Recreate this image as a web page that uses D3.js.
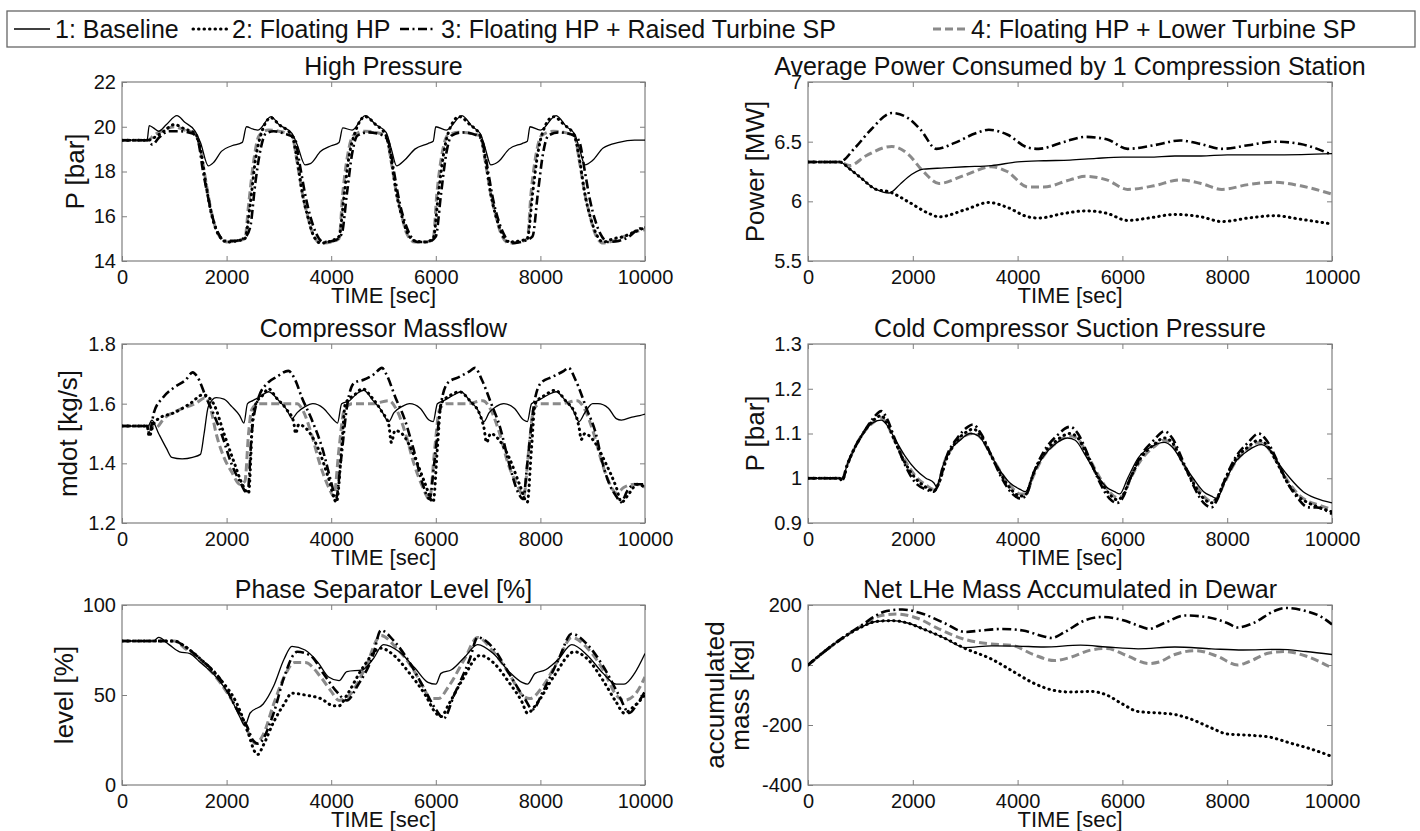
<!DOCTYPE html>
<html><head><meta charset="utf-8">
<script src="https://cdn.jsdelivr.net/npm/d3@7"></script>
<style>body{margin:0;background:#fff}svg{display:block}text{font-family:Arial,"Liberation Sans",Helvetica,sans-serif;fill:#111}</style>
</head><body><svg id="c" width="1420" height="831"></svg>
<script>
// ---------------- DATA ----------------
const seriesNames = ["1: Baseline","2: Floating HP","3: Floating HP + Raised Turbine SP","4: Floating HP + Lower Turbine SP"];
const timeTicks = [0,2000,4000,6000,8000,10000];

// High Pressure [bar]
const hpTicks = [14,16,18,20,22];
const hpBaseline = [[0,19.4],[480,19.4],[520,20.05],[600,19.95],[700,19.8],[850,20.1],[1050,20.5],[1200,20.2],[1400,19.8],[1500,19.3],[1650,18.25],[1750,18.4],[1900,18.9],[2100,19.15],[2300,19.3],[2380,20.0],[2500,19.9],[2600,19.85],[2850,20.45],[3000,20.1],[3250,19.7],[3350,19.2],[3500,18.3],[3600,18.35],[3800,18.9],[4000,19.15],[4150,19.3],[4220,19.95],[4400,19.85],[4650,20.5],[4850,20.1],[5050,19.75],[5150,19.0],[5250,18.25],[5400,18.5],[5600,19.0],[5850,19.25],[5950,19.35],[6000,20.0],[6200,19.85],[6500,20.5],[6700,20.0],[6850,19.7],[6950,19.0],[7050,18.3],[7200,18.45],[7400,19.0],[7650,19.25],[7750,19.35],[7800,20.0],[8000,19.85],[8300,20.5],[8500,20.0],[8650,19.7],[8750,19.0],[8850,18.3],[9000,18.5],[9200,19.05],[9500,19.3],[9800,19.4],[10000,19.4]];
const hpFloating = [[0,19.4],[500,19.4],[600,19.5],[800,19.8],[1000,20.1],[1200,19.9],[1400,19.7],[1500,19.0],[1600,17.5],[1700,16.2],[1800,15.4],[1900,15.0],[2000,14.85],[2200,14.9],[2350,15.0],[2450,16.5],[2550,18.5],[2650,19.6],[2850,20.4],[3000,20.1],[3250,19.6],[3350,18.5],[3450,17.0],[3550,16.0],[3650,15.2],[3800,14.8],[4000,14.9],[4150,15.1],[4250,17.0],[4350,18.8],[4450,19.7],[4650,20.45],[4850,20.1],[5050,19.6],[5150,18.5],[5250,17.0],[5350,16.0],[5450,15.3],[5600,14.9],[5800,14.85],[5950,15.0],[6050,17.0],[6150,18.8],[6250,19.8],[6450,20.45],[6650,20.1],[6850,19.6],[6950,18.5],[7050,17.0],[7150,16.0],[7250,15.3],[7400,14.85],[7600,14.9],[7750,15.0],[7850,17.0],[7950,18.8],[8050,19.8],[8250,20.45],[8450,20.1],[8650,19.6],[8750,18.5],[8850,17.0],[8950,16.0],[9050,15.3],[9200,14.85],[9400,15.0],[9600,15.1],[9800,15.3],[10000,15.5]];
const hpRaised = [[0,19.4],[500,19.4],[580,19.2],[700,19.5],[900,19.8],[1100,19.8],[1350,19.7],[1450,19.4],[1550,18.0],[1650,16.8],[1750,15.8],[1850,15.2],[1950,14.9],[2150,14.9],[2350,15.05],[2450,15.5],[2550,17.5],[2650,19.0],[2750,19.7],[2900,19.8],[3100,19.7],[3300,19.5],[3400,18.3],[3500,17.0],[3600,16.0],[3700,15.3],[3850,14.85],[4050,14.9],[4200,15.2],[4300,17.0],[4400,18.8],[4500,19.6],[4700,19.75],[5000,19.6],[5100,19.3],[5200,18.0],[5300,16.7],[5400,15.8],[5500,15.2],[5650,14.85],[5850,14.85],[6000,15.1],[6100,17.0],[6200,18.8],[6300,19.6],[6500,19.75],[6800,19.6],[6900,19.3],[7000,18.0],[7100,16.7],[7200,15.8],[7300,15.2],[7450,14.8],[7700,14.9],[7850,15.1],[7950,17.0],[8050,18.8],[8150,19.6],[8350,19.75],[8650,19.6],[8750,19.3],[8850,18.0],[8950,16.7],[9050,15.8],[9150,15.2],[9300,14.85],[9500,14.9],[9700,15.1],[9850,15.4],[10000,15.5]];
const hpLower = [[0,19.4],[500,19.4],[600,19.6],[800,19.85],[1000,20.0],[1200,19.85],[1400,19.7],[1500,19.0],[1600,17.6],[1700,16.3],[1800,15.4],[1900,15.0],[2000,14.85],[2200,14.9],[2350,15.0],[2420,16.5],[2520,18.5],[2620,19.6],[2800,19.85],[3000,19.8],[3250,19.6],[3350,18.4],[3450,17.0],[3550,16.0],[3650,15.2],[3800,14.8],[4000,14.85],[4150,15.0],[4220,17.0],[4320,18.8],[4420,19.6],[4650,19.8],[4850,19.75],[5050,19.6],[5150,18.4],[5250,17.0],[5350,16.0],[5450,15.2],[5600,14.85],[5800,14.85],[5950,15.0],[6020,17.0],[6120,18.8],[6220,19.6],[6450,19.75],[6850,19.6],[6950,18.4],[7050,17.0],[7150,16.0],[7250,15.2],[7400,14.8],[7600,14.85],[7750,15.0],[7820,17.0],[7920,18.8],[8020,19.6],[8250,19.8],[8650,19.6],[8750,18.4],[8850,17.0],[8950,16.0],[9050,15.2],[9200,14.8],[9400,14.9],[9600,15.1],[9800,15.3],[10000,15.4]];

// Average Power [MW]
const pwTicks = [5.5,6,6.5,7];
const pwBaseline = [[0,6.33],[600,6.33],[800,6.27],[1000,6.2],[1300,6.1],[1550,6.07],[1750,6.14],[1900,6.2],[2200,6.27],[2600,6.28],[3000,6.29],[3500,6.3],[4000,6.33],[4500,6.34],[5000,6.345],[5500,6.36],[6000,6.37],[6500,6.37],[7000,6.38],[7500,6.38],[8000,6.39],[9000,6.39],[10000,6.4]];
const pwFloating = [[0,6.33],[600,6.33],[800,6.27],[1000,6.2],[1300,6.1],[1550,6.08],[1900,6.0],[2300,5.9],[2500,5.87],[3000,5.93],[3450,5.99],[3800,5.95],[4200,5.87],[4400,5.86],[4900,5.9],[5300,5.92],[5700,5.9],[6100,5.84],[6500,5.86],[7000,5.89],[7500,5.87],[7900,5.83],[8400,5.86],[8900,5.88],[9400,5.85],[10000,5.81]];
const pwRaised = [[0,6.33],[600,6.33],[900,6.45],[1200,6.6],[1600,6.74],[1900,6.7],[2150,6.6],[2450,6.44],[2800,6.49],[3200,6.57],[3450,6.6],[3800,6.56],[4200,6.45],[4400,6.44],[4900,6.5],[5300,6.54],[5700,6.52],[6100,6.44],[6600,6.47],[7100,6.51],[7500,6.48],[7900,6.44],[8400,6.47],[8900,6.5],[9400,6.48],[10000,6.39]];
const pwLower = [[0,6.33],[600,6.33],[800,6.3],[1100,6.38],[1600,6.46],[1900,6.4],[2200,6.25],[2500,6.15],[3000,6.22],[3500,6.29],[3800,6.25],[4200,6.12],[4500,6.12],[5000,6.18],[5300,6.21],[5700,6.18],[6100,6.1],[6600,6.13],[7100,6.18],[7500,6.15],[7900,6.1],[8400,6.14],[8900,6.16],[9400,6.13],[10000,6.06]];

// Compressor Massflow [kg/s]
const mfTicks = [1.2,1.4,1.6,1.8];
const mfBaseline = [[0,1.525],[500,1.525],[570,1.545],[700,1.5],[850,1.45],[950,1.42],[1150,1.415],[1350,1.42],[1500,1.43],[1570,1.5],[1650,1.59],[1800,1.62],[1950,1.615],[2100,1.59],[2250,1.56],[2330,1.535],[2400,1.6],[2500,1.61],[2650,1.625],[2800,1.64],[3000,1.61],[3150,1.58],[3250,1.55],[3350,1.57],[3500,1.59],[3650,1.6],[3850,1.585],[4050,1.545],[4120,1.535],[4200,1.6],[4350,1.61],[4500,1.635],[4620,1.645],[4800,1.61],[4950,1.58],[5100,1.54],[5200,1.57],[5350,1.59],[5500,1.6],[5700,1.585],[5870,1.545],[5950,1.54],[6030,1.6],[6150,1.61],[6350,1.63],[6480,1.64],[6650,1.61],[6800,1.58],[6920,1.54],[7020,1.57],[7150,1.59],[7300,1.6],[7500,1.585],[7680,1.545],[7750,1.54],[7830,1.6],[7950,1.61],[8150,1.63],[8300,1.64],[8480,1.61],[8620,1.58],[8740,1.54],[8850,1.57],[9000,1.6],[9100,1.6],[9300,1.585],[9450,1.55],[9550,1.545],[9750,1.555],[9900,1.56],[10000,1.565]];
const mfFloating = [[0,1.525],[480,1.525],[520,1.49],[600,1.53],[700,1.55],[1000,1.57],[1300,1.6],[1550,1.63],[1750,1.6],[1950,1.5],[2150,1.4],[2300,1.33],[2420,1.3],[2500,1.55],[2560,1.6],[2700,1.63],[2800,1.65],[2950,1.62],[3150,1.58],[3280,1.54],[3320,1.5],[3380,1.53],[3500,1.52],[3750,1.45],[3950,1.35],[4100,1.27],[4200,1.45],[4270,1.6],[4450,1.63],[4600,1.65],[4780,1.62],[4980,1.57],[5100,1.53],[5150,1.47],[5220,1.51],[5350,1.5],[5600,1.42],[5800,1.33],[5950,1.27],[6030,1.45],[6100,1.6],[6300,1.63],[6450,1.64],[6650,1.61],[6850,1.56],[6920,1.52],[6970,1.47],[7050,1.5],[7150,1.49],[7400,1.42],[7600,1.33],[7750,1.27],[7830,1.45],[7900,1.6],[8100,1.63],[8280,1.645],[8480,1.61],[8680,1.56],[8740,1.52],[8780,1.48],[8850,1.5],[9000,1.48],[9250,1.4],[9450,1.32],[9550,1.27],[9700,1.3],[9850,1.33],[10000,1.32]];
const mfRaised = [[0,1.525],[480,1.525],[520,1.5],[610,1.57],[780,1.62],[1000,1.655],[1220,1.68],[1350,1.705],[1440,1.69],[1610,1.62],[1740,1.57],[1900,1.5],[2090,1.4],[2250,1.34],[2400,1.3],[2480,1.5],[2610,1.62],[2790,1.67],[2960,1.69],[3180,1.71],[3310,1.68],[3440,1.62],[3620,1.55],[3830,1.45],[4010,1.33],[4090,1.28],[4180,1.4],[4310,1.6],[4440,1.67],[4620,1.68],[4830,1.7],[4970,1.72],[5050,1.7],[5230,1.62],[5400,1.55],[5570,1.45],[5750,1.33],[5880,1.28],[5970,1.4],[6100,1.6],[6230,1.67],[6450,1.69],[6660,1.71],[6750,1.72],[6880,1.68],[7060,1.6],[7230,1.52],[7400,1.4],[7580,1.3],[7670,1.28],[7750,1.4],[7880,1.6],[8010,1.67],[8230,1.69],[8450,1.71],[8540,1.72],[8670,1.68],[8890,1.58],[9060,1.5],[9190,1.4],[9320,1.33],[9450,1.29],[9540,1.27],[9670,1.31],[9800,1.33],[10000,1.33]];
const mfLower = [[0,1.525],[550,1.525],[650,1.52],[800,1.55],[1100,1.58],[1400,1.6],[1600,1.62],[1700,1.58],[1800,1.5],[1950,1.42],[2100,1.37],[2250,1.33],[2350,1.34],[2420,1.5],[2480,1.58],[2600,1.6],[3000,1.6],[3350,1.6],[3450,1.58],[3620,1.5],[3780,1.4],[3950,1.32],[4050,1.29],[4150,1.45],[4250,1.58],[4400,1.6],[4800,1.6],[5100,1.61],[5250,1.58],[5420,1.5],[5580,1.4],[5750,1.32],[5880,1.28],[5980,1.45],[6070,1.58],[6200,1.6],[6600,1.6],[6900,1.61],[7050,1.58],[7220,1.5],[7380,1.4],[7550,1.33],[7680,1.29],[7780,1.45],[7870,1.58],[8000,1.6],[8400,1.6],[8700,1.61],[8850,1.58],[9020,1.5],[9180,1.4],[9330,1.33],[9450,1.3],[9600,1.32],[9800,1.33],[10000,1.32]];

// Cold Compressor Suction Pressure [bar]
const spTicks = [0.9,1,1.1,1.2,1.3];
const spBaseline = [[0,1.0],[600,1.0],[650,1.0],[750,1.03],[900,1.07],[1050,1.1],[1250,1.125],[1400,1.13],[1500,1.12],[1650,1.09],[1850,1.05],[2050,1.02],[2250,1.0],[2400,0.99],[2460,0.98],[2550,1.02],[2700,1.06],[2900,1.085],[3100,1.1],[3250,1.095],[3450,1.06],[3650,1.02],[3850,0.99],[4050,0.975],[4150,0.97],[4300,1.01],[4500,1.05],[4700,1.075],[4950,1.09],[5100,1.085],[5300,1.05],[5500,1.01],[5700,0.98],[5850,0.97],[5950,0.965],[6100,1.0],[6300,1.045],[6550,1.07],[6800,1.08],[6950,1.07],[7150,1.035],[7350,1.0],[7550,0.97],[7700,0.96],[7800,0.955],[7950,0.99],[8150,1.035],[8400,1.062],[8650,1.075],[8800,1.065],[9000,1.03],[9200,1.0],[9450,0.97],[9700,0.955],[10000,0.945]];
const spFloating = [[0,1.0],[600,1.0],[650,0.995],[750,1.03],[900,1.07],[1050,1.1],[1250,1.13],[1400,1.14],[1500,1.125],[1650,1.085],[1850,1.035],[2050,1.0],[2250,0.98],[2400,0.972],[2500,0.99],[2650,1.045],[2850,1.085],[3050,1.105],[3150,1.11],[3300,1.095],[3500,1.05],[3700,1.005],[3900,0.972],[4050,0.96],[4150,0.963],[4300,1.01],[4500,1.055],[4750,1.085],[5000,1.1],[5150,1.09],[5350,1.045],[5550,1.0],[5750,0.965],[5900,0.952],[6000,0.96],[6150,1.0],[6350,1.045],[6600,1.075],[6800,1.09],[6950,1.08],[7150,1.035],[7350,0.99],[7550,0.955],[7700,0.945],[7800,0.955],[7950,0.995],[8150,1.04],[8400,1.07],[8600,1.085],[8750,1.075],[8950,1.035],[9150,0.99],[9350,0.96],[9550,0.945],[9750,0.935],[10000,0.925]];
const spRaised = [[0,1.0],[600,1.0],[650,0.995],[750,1.03],[900,1.07],[1050,1.1],[1250,1.135],[1400,1.15],[1500,1.135],[1650,1.09],[1850,1.03],[2050,0.99],[2250,0.975],[2400,0.97],[2500,0.99],[2650,1.05],[2850,1.09],[3050,1.115],[3150,1.12],[3300,1.1],[3500,1.05],[3700,1.0],[3900,0.965],[4050,0.955],[4150,0.96],[4300,1.01],[4500,1.06],[4750,1.095],[5000,1.115],[5150,1.1],[5350,1.05],[5550,0.995],[5750,0.955],[5900,0.945],[6000,0.955],[6150,1.0],[6350,1.05],[6600,1.085],[6800,1.105],[6950,1.09],[7150,1.04],[7350,0.985],[7550,0.945],[7700,0.935],[7800,0.95],[7950,0.995],[8150,1.045],[8400,1.08],[8600,1.1],[8750,1.085],[8950,1.04],[9150,0.99],[9350,0.955],[9550,0.935],[9700,0.935],[9850,0.93],[10000,0.92]];
const spLower = [[0,1.0],[600,1.0],[650,0.998],[750,1.03],[900,1.07],[1050,1.1],[1250,1.125],[1400,1.135],[1500,1.122],[1650,1.085],[1850,1.04],[2050,1.005],[2250,0.985],[2400,0.975],[2480,0.985],[2600,1.035],[2800,1.075],[3000,1.095],[3150,1.1],[3300,1.09],[3500,1.05],[3700,1.01],[3900,0.978],[4050,0.965],[4150,0.965],[4300,1.005],[4500,1.05],[4750,1.08],[5000,1.095],[5150,1.088],[5350,1.048],[5550,1.005],[5750,0.97],[5900,0.957],[6000,0.96],[6150,0.998],[6350,1.04],[6600,1.07],[6800,1.085],[6950,1.077],[7150,1.035],[7350,0.995],[7550,0.96],[7700,0.948],[7800,0.955],[7950,0.99],[8150,1.035],[8400,1.065],[8600,1.08],[8750,1.072],[8950,1.035],[9150,0.995],[9350,0.965],[9550,0.948],[9750,0.94],[10000,0.93]];

// Phase Separator Level [%]
const lvTicks = [0,50,100];
const lvBaseline = [[0,80],[600,80],[700,82],[900,78],[1100,74],[1300,73],[1500,68],[1800,60],[2050,50],[2250,38],[2350,33],[2450,40],[2700,45],[2900,55],[3100,70],[3250,77],[3500,75],[3750,68],[3950,60],[4150,58],[4300,63],[4600,64],[4800,70],[5000,78],[5300,74],[5600,65],[5850,57],[6000,56],[6100,62],[6300,64],[6550,71],[6800,78],[7100,73],[7400,63],[7650,57],[7750,56],[7900,62],[8100,64],[8350,70],[8600,78],[8900,72],[9200,62],[9450,56],[9600,56],[9800,62],[10000,73]];
const lvFloating = [[0,80],[800,80],[1000,80],[1200,77],[1500,70],[1900,58],[2200,45],[2400,30],[2550,18],[2600,17],[2700,22],[2900,35],[3100,45],[3250,51],[3500,50],[3800,48],[4050,44],[4150,44],[4300,50],[4600,65],[4950,76],[5200,72],[5500,62],[5800,50],[6000,40],[6100,38],[6250,45],[6500,58],[6850,72],[7100,68],[7400,57],[7650,46],[7750,40],[7950,46],[8250,60],[8650,74],[8900,70],[9200,58],[9450,46],[9600,40],[9800,44],[10000,50]];
const lvRaised = [[0,80],[600,80],[1000,80],[1200,77],[1500,70],[1900,58],[2200,42],[2400,32],[2500,25],[2600,23],[2900,40],[3100,60],[3350,74],[3600,72],[3850,62],[4100,52],[4300,47],[4500,55],[4800,72],[4950,86],[5200,80],[5500,68],[5750,55],[6000,42],[6150,37],[6350,50],[6650,70],[6800,82],[7100,76],[7400,62],[7700,48],[7850,42],[8050,52],[8350,70],[8600,84],[8900,78],[9200,66],[9500,50],[9700,40],[9850,45],[10000,52]];
const lvLower = [[0,80],[600,80],[1000,80],[1200,76],[1500,69],[1900,56],[2200,42],[2400,30],[2550,23],[2700,28],[2900,45],[3100,60],[3300,68],[3500,68],[3800,60],[4000,52],[4150,47],[4350,50],[4650,65],[4950,83],[5250,76],[5550,65],[5750,55],[5900,48],[6050,48],[6250,55],[6550,70],[6800,82],[7100,74],[7400,62],[7650,50],[7800,48],[8050,55],[8350,70],[8600,82],[8900,76],[9200,64],[9450,50],[9600,47],[9800,50],[10000,60]];

// Net LHe Mass Accumulated [kg]
const lmTicks = [-400,-200,0,200];
const lmBaseline = [[0,0],[500,70],[1000,125],[1300,145],[1600,148],[1900,140],[2200,120],[2600,90],[3000,58],[3500,64],[4000,63],[4500,60],[5200,66],[5700,60],[6300,54],[7000,60],[7700,54],[8300,50],[9000,52],[9500,45],[10000,35]];
const lmFloating = [[0,0],[500,70],[1000,125],[1300,145],[1600,148],[1900,140],[2200,120],[2600,90],[3000,55],[3500,20],[3900,-20],[4300,-60],[4700,-85],[5000,-90],[5400,-88],[5700,-100],[6000,-130],[6300,-155],[6700,-160],[7000,-165],[7300,-180],[7700,-210],[8000,-230],[8500,-235],[8800,-240],[9200,-260],[9600,-280],[10000,-305]];
const lmRaised = [[0,0],[500,70],[1000,130],[1500,180],[1800,185],[2200,170],[2600,140],[3000,110],[3300,115],[3700,120],[4100,115],[4500,95],[4650,90],[4900,110],[5300,150],[5600,160],[6000,150],[6400,125],[6500,120],[6800,140],[7200,165],[7600,160],[8000,140],[8200,125],[8500,140],[8900,180],[9100,190],[9500,180],[9800,160],[10000,135]];
const lmLower = [[0,0],[500,70],[1000,128],[1400,165],[1700,170],[2100,155],[2500,120],[3000,85],[3500,70],[3900,65],[4300,35],[4700,15],[5000,25],[5400,50],[5700,55],[6100,30],[6500,5],[6700,10],[7000,35],[7400,48],[7800,30],[8200,0],[8400,10],[8800,40],[9100,45],[9500,30],[10000,-10]];

// ---------------- LAYOUT / STYLE ----------------
const cols = [{x0:122,x1:645},{x0:808,x1:1332}];
const rows = [{y0:82,y1:261},{y0:344,y1:523},{y0:605,y1:785}];
const styles = [
  {stroke:"#000",width:1.3,dash:null,cap:"butt"},
  {stroke:"#000",width:3,dash:"0.5,5",cap:"round"},
  {stroke:"#000",width:2.6,dash:"9,3.5,2,3.5",cap:"butt"},
  {stroke:"#8a8a8a",width:3,dash:"8,4",cap:"butt"}
];
const plots = [
  {title:"High Pressure",ylab:["P [bar]"],ylx:[75],dom:[14,22],ticks:hpTicks,data:[hpBaseline,hpFloating,hpRaised,hpLower],c:0,r:0},
  {title:"Average Power Consumed by 1 Compression Station",ylab:["Power [MW]"],ylx:[755],dom:[5.5,7],ticks:pwTicks,data:[pwBaseline,pwFloating,pwRaised,pwLower],c:1,r:0},
  {title:"Compressor Massflow",ylab:["mdot [kg/s]"],ylx:[68],dom:[1.2,1.8],ticks:mfTicks,data:[mfBaseline,mfFloating,mfRaised,mfLower],c:0,r:1},
  {title:"Cold Compressor Suction Pressure",ylab:["P [bar]"],ylx:[755],dom:[0.9,1.3],ticks:spTicks,data:[spBaseline,spFloating,spRaised,spLower],c:1,r:1},
  {title:"Phase Separator Level [%]",ylab:["level [%]"],ylx:[64],dom:[0,100],ticks:lvTicks,data:[lvBaseline,lvFloating,lvRaised,lvLower],c:0,r:2},
  {title:"Net LHe Mass Accumulated in Dewar",ylab:["accumulated","mass [kg]"],ylx:[715,740],dom:[-400,200],ticks:lmTicks,data:[lmBaseline,lmFloating,lmRaised,lmLower],c:1,r:2}
];

const svg = d3.select("#c");
const frameCol = "#7f7f7f";
const fmt = v => String(+v.toFixed(3));

plots.forEach(p => {
  const C = cols[p.c], R = rows[p.r];
  const x = d3.scaleLinear().domain([0,10000]).range([C.x0,C.x1]);
  const y = d3.scaleLinear().domain(p.dom).range([R.y1,R.y0]);
  const g = svg.append("g");
  const clipId = "clip"+p.c+p.r;
  g.append("clipPath").attr("id",clipId).append("rect")
    .attr("x",C.x0).attr("y",R.y0).attr("width",C.x1-C.x0).attr("height",R.y1-R.y0);

  // axes (inward ticks on all sides)
  const tl = 5;
  const axB = d3.axisBottom(x).tickValues(timeTicks).tickSize(-tl).tickPadding(5).tickFormat(d3.format("d"));
  const axT = d3.axisTop(x).tickValues(timeTicks).tickSize(-tl).tickFormat("");
  const axL = d3.axisLeft(y).tickValues(p.ticks).tickSize(-tl).tickPadding(6).tickFormat(fmt);
  const axR = d3.axisRight(y).tickValues(p.ticks).tickSize(-tl).tickFormat("");
  const gb = g.append("g").attr("transform",`translate(0,${R.y1})`).call(axB);
  const gt = g.append("g").attr("transform",`translate(0,${R.y0})`).call(axT);
  const gl = g.append("g").attr("transform",`translate(${C.x0},0)`).call(axL);
  const gr = g.append("g").attr("transform",`translate(${C.x1},0)`).call(axR);
  [gb,gt,gl,gr].forEach(a => {
    a.select(".domain").remove();
    a.selectAll(".tick line").attr("stroke",frameCol).attr("stroke-width",1);
    a.selectAll(".tick text").attr("font-size",20).attr("fill","#111")
      .attr("font-family",'Arial,"Liberation Sans",sans-serif');
  });
  gb.selectAll(".tick text").attr("dy","0.92em");
  g.append("rect").attr("x",C.x0).attr("y",R.y0).attr("width",C.x1-C.x0).attr("height",R.y1-R.y0)
    .attr("fill","none").attr("stroke",frameCol).attr("stroke-width",1.2);

  // series
  const line = d3.line().x(d=>x(d[0])).y(d=>y(d[1])).curve(d3.curveMonotoneX);
  const order = [3,2,1,0];
  const lg = g.append("g").attr("clip-path",`url(#${clipId})`);
  order.forEach(i => {
    const s = styles[i];
    lg.append("path").datum(p.data[i]).attr("d",line).attr("fill","none")
      .attr("stroke",s.stroke).attr("stroke-width",s.width)
      .attr("stroke-dasharray",s.dash).attr("stroke-linecap",s.cap).attr("stroke-linejoin","round");
  });

  // title, labels
  g.append("text").attr("x",(C.x0+C.x1)/2).attr("y",R.y0-7).attr("text-anchor","middle")
    .attr("font-size",25).text(p.title);
  g.append("text").attr("x",(C.x0+C.x1)/2).attr("y",R.y1+42).attr("text-anchor","middle")
    .attr("font-size",22).text("TIME [sec]");
  p.ylab.forEach((t,k) => {
    const cy = (R.y0+R.y1)/2;
    g.append("text").attr("transform",`translate(${p.ylx[k]+9},${cy}) rotate(-90)`)
      .attr("text-anchor","middle").attr("font-size",26).text(t);
  });
});

// legend
const leg = svg.append("g");
leg.append("rect").attr("x",7).attr("y",11).attr("width",1408).attr("height",36)
  .attr("fill","#fff").attr("stroke","#666").attr("stroke-width",1.3);
const legItems = [{lx:14,tx:55},{lx:193,tx:232},{lx:400,tx:441},{lx:933,tx:971}];
legItems.forEach((it,i) => {
  const s = styles[i];
  leg.append("line").attr("x1",it.lx).attr("x2",it.lx+36).attr("y1",29).attr("y2",29)
    .attr("stroke",s.stroke).attr("stroke-width",s.width).attr("stroke-dasharray",s.dash).attr("stroke-linecap",s.cap);
  leg.append("text").attr("x",it.tx).attr("y",37.5).attr("font-size",25).text(seriesNames[i]);
});
</script></body></html>
